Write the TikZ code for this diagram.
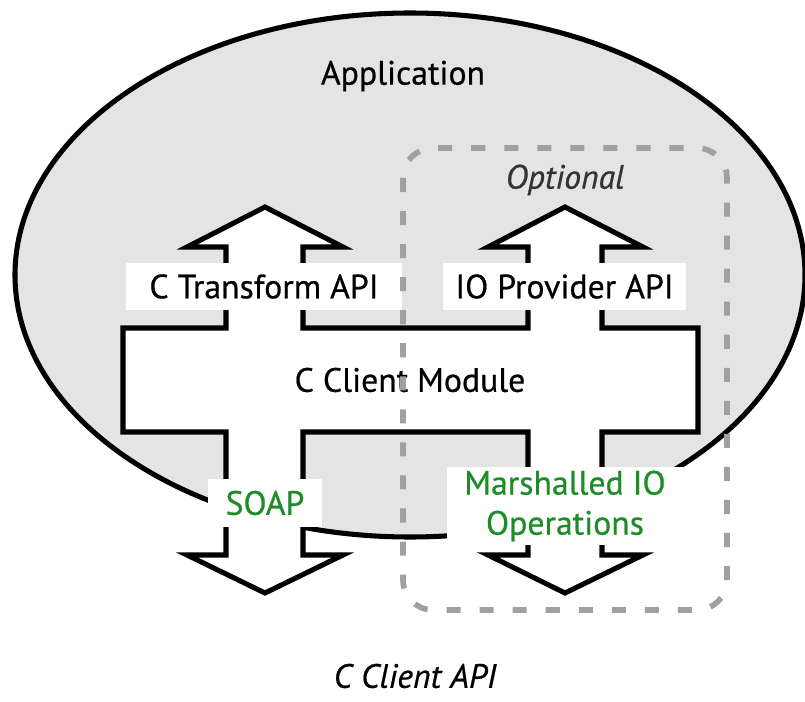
\documentclass[tikz,border=0pt]{standalone}
\usepackage{fontspec}
\setmainfont{PT Sans}[FakeBold=0.6]
\definecolor{appgray}{RGB}{228,228,228}
\definecolor{optgray}{RGB}{160,160,160}
\definecolor{apigreen}{RGB}{30,140,40}
\tikzset{
  outline/.style={line width=3.6pt,line join=miter},
  lblbox/.style={fill=white,inner sep=0pt,minimum height=1.175cm},
  optbox/.style={draw=optgray,line width=4pt,dash pattern=on 10pt off 13.5pt,rounded corners=0.75cm}
}
\begin{document}
\begin{tikzpicture}[x=0.025cm,y=-0.025cm,font=\fontsize{24}{28.5}\selectfont]

\useasboundingbox (0,0) rectangle (805,702);

%Application
\begin{scope}
\coordinate (app) at (410,275);
\draw[outline,fill=appgray] (app) ellipse [x radius=395,y radius=262];
\node (application) at (403,76) {Application};
\end{scope}

%Client module with the four arrows
\begin{scope}
\draw[outline,fill=white]
  (123,328) -- (226,328) -- (226,247) -- (187,247) -- (265,207) -- (343,247)
  -- (303,247) -- (303,328) -- (528,328) -- (528,247) -- (488,247) -- (565,207)
  -- (643,247) -- (602,247) -- (602,328) -- (698,328) -- (698,432) -- (602,432)
  -- (602,555) -- (643,555) -- (565,593) -- (488,555) -- (528,555) -- (528,432)
  -- (303,432) -- (303,555) -- (343,555) -- (265,593) -- (187,555) -- (226,555)
  -- (226,432) -- (123,432) -- cycle;
\node (module) at (410,380) {C Client Module};
\end{scope}

%Labels on the arrows
\node[lblbox,minimum width=6.9cm] (ctrans) at (264,286.5) {C Transform API};
\node[lblbox,minimum width=6.075cm] (ioprov) at (564.5,286.5) {IO Provider API};
\node[lblbox,minimum width=2.85cm,text=apigreen] (soap) at (265,503) {SOAP};
\node[lblbox,minimum width=5.9cm,minimum height=1.95cm,text=apigreen,align=center] (marsh) at (565,506) {Marshalled IO\\Operations};

%Optional part
\draw[optbox] (403,148) rectangle (727,610);
\node[text=black!80] (optional) at (565,180) {\itshape Optional};

\node[inner sep=1pt] (clientapi) at (415,676) {\itshape C Client API};

\end{tikzpicture}
\end{document}
